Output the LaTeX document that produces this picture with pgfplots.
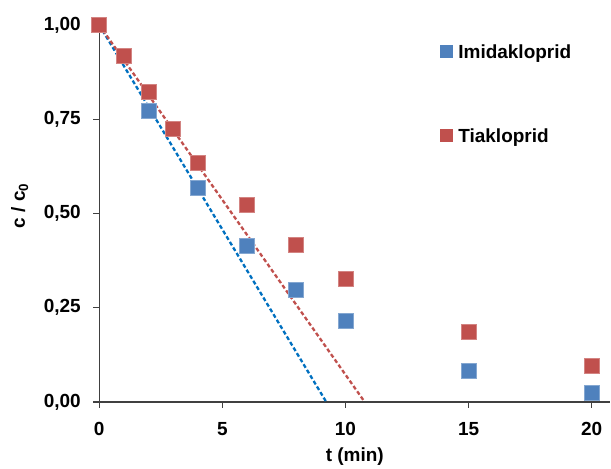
\documentclass[border=0pt]{standalone}
\usepackage{fontspec}
\setmainfont{Liberation Sans}
\usepackage{pgfplots}
\pgfplotsset{compat=1.18}

\definecolor{imiblue}{RGB}{79,129,189}
\definecolor{tiared}{RGB}{192,80,77}
\definecolor{trendblue}{RGB}{0,112,192}
\definecolor{axisgray}{RGB}{64,64,64}

\begin{document}
\begin{tikzpicture}
\begin{axis}[
  at={(0,0)}, anchor=south west,
  scale only axis,
  width=511.7bp, height=377.3bp,
  xmin=0, xmax=20.76, ymin=0, ymax=1,
  clip=false,
  axis x line=bottom, axis y line=left,
  axis line style={-, axisgray, line width=1.2bp},
  every tick/.style={axisgray, line width=1.2bp},
  tick align=outside,
  major tick length=6bp,
  xtick={0,5,10,15,20},
  ytick={0,0.25,0.5,0.75,1},
  minor tick num=0,
  font=\fontsize{19bp}{22bp}\selectfont\bfseries,
  /pgf/number format/assume math mode=true,
  yticklabel style={/pgf/number format/.cd, fixed, fixed zerofill, precision=2, use comma, /tikz/.cd, anchor=east, xshift=-9bp},
  xticklabel style={yshift=-11bp},
  xlabel={t (min)},
  ylabel={c / c\textsubscript{0}},
  xlabel style={at={(axis description cs:0.5,-0.158)}, anchor=base},
  ylabel style={at={(axis description cs:-0.1452,0.52)}, anchor=base},
  legend style={at={(0.667,0.947)}, anchor=north west, draw=none, fill=none,
    inner sep=0pt, row sep=70bp, column sep=5bp,
    nodes={inner sep=0pt, text height=13.5bp, text depth=0bp, anchor=base west},
    font=\fontsize{19bp}{22bp}\selectfont\bfseries},
  legend cell align=left,
  legend image code/.code={
    \fill[#1, draw=none] (1.5bp,0.5bp) rectangle (14.5bp,13.5bp);
  },
]
% measured concentrations
\addplot[only marks, mark=square*, mark size=7.5bp, fill=imiblue, mark options={draw=imiblue!70!white, fill=imiblue, line width=0.5bp}]
  coordinates {(0,1.000) (2,0.772) (4,0.568) (6,0.414) (8,0.297) (10,0.215) (15,0.082) (20,0.024)};
\addlegendentry{Imidakloprid}
\addplot[only marks, mark=square*, mark size=7.5bp, fill=tiared, mark options={draw=tiared!70!white, fill=tiared, line width=0.5bp}]
  coordinates {(0,1.000) (1,0.918) (2,0.822) (3,0.724) (4,0.634) (6,0.523) (8,0.416) (10,0.326) (15,0.186) (20,0.095)};
\addlegendentry{Tiakloprid}
% linear trendlines of the initial decay
\addplot[trendblue, line width=2.3bp, dash pattern=on 4bp off 2.5bp, forget plot]
  coordinates {(0,1) (9.22,0)};
\addplot[tiared, line width=2.3bp, dash pattern=on 4bp off 2.5bp, forget plot]
  coordinates {(0,1) (10.78,0)};
\end{axis}
\path[use as bounding box] (-99.3bp,-60.7bp) rectangle (511.7bp,402.3bp);
\end{tikzpicture}
\end{document}
